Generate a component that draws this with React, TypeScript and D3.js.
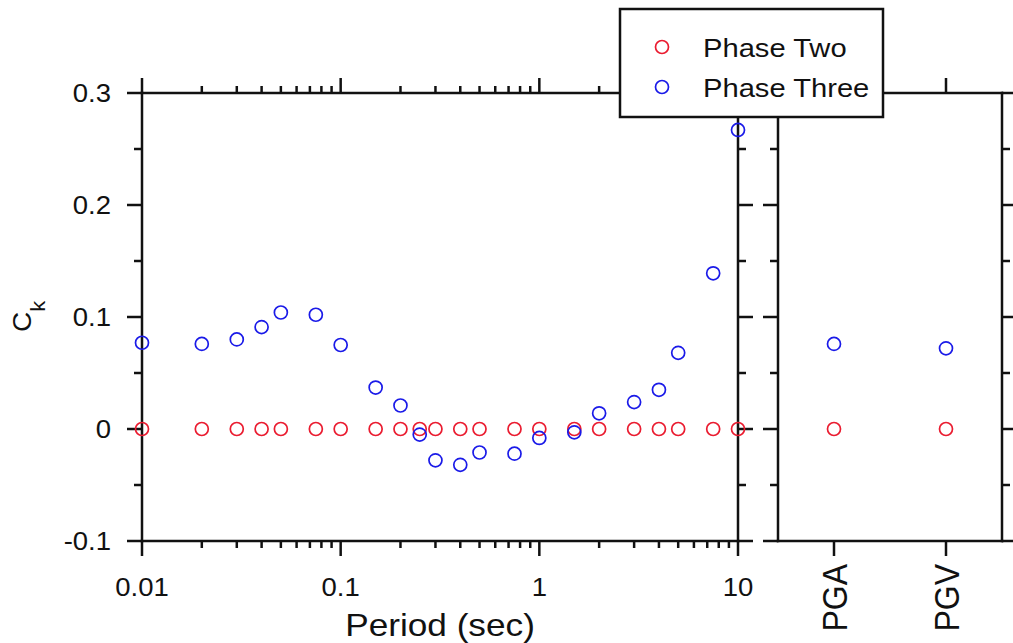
import React from "react";
import * as d3 from "d3";

const periods = [0.01, 0.02, 0.03, 0.04, 0.05, 0.075, 0.1, 0.15, 0.2, 0.25, 0.3, 0.4, 0.5, 0.75, 1, 1.5, 2, 3, 4, 5, 7.5, 10];
const phaseTwo = [0, 0, 0, 0, 0, 0, 0, 0, 0, 0, 0, 0, 0, 0, 0, 0, 0, 0, 0, 0, 0, 0];
const phaseThree = [0.077, 0.076, 0.080, 0.091, 0.104, 0.102, 0.075, 0.037, 0.021, -0.005, -0.028, -0.032, -0.021, -0.022, -0.008, -0.003, 0.014, 0.024, 0.035, 0.068, 0.139, 0.267];

const categories = ["PGA", "PGV"];
const phaseTwoCat = [0, 0];
const phaseThreeCat = [0.076, 0.072];

const yTicks = [-0.1, 0, 0.1, 0.2, 0.3];
const yTickLabels = ["-0.1", "0", "0.1", "0.2", "0.3"];
const yMinorTicks = [-0.05, 0.05, 0.15, 0.25];
const xTicks = [0.01, 0.1, 1, 10];
const xTickLabels = ["0.01", "0.1", "1", "10"];
const decades = [0.01, 0.1, 1];
const minorMult = [2, 3, 4, 5, 6, 7, 8, 9];

const seriesNames = ["Phase Two", "Phase Three"];
const RED = "#ea1c30";
const BLUE = "#1a1ae8";
const INK = "#111";
const FONT = "'Liberation Sans', Arial, sans-serif";

export default function App() {
  const x = d3.scaleLog().domain([0.01, 10]).range([142, 738]);
  const y = d3.scaleLinear().domain([-0.1, 0.3]).range([541, 93]);
  const xc = d3.scalePoint<string>().domain(categories).range([778, 1002]).padding(0.5);

  const top = y(0.3);
  const bottom = y(-0.1);
  const L0 = x(0.01);
  const L1 = x(10);
  const R0 = 778;
  const R1 = 1002;
  const MAJ = 15;
  const MIN = 8;
  const XMIN = 7;
  const sw = 2.5;

  const minorX: number[] = [];
  decades.forEach((d) => minorMult.forEach((m) => minorX.push(d * m)));

  const yTickLines = (ax: number, dir: number) => (
    <g>
      {yTicks.map((t, i) => (
        <line key={"M" + i} x1={ax} x2={ax + dir * MAJ} y1={y(t)} y2={y(t)} stroke={INK} strokeWidth={sw} />
      ))}
      {yMinorTicks.map((t, i) => (
        <line key={"m" + i} x1={ax} x2={ax + dir * MIN} y1={y(t)} y2={y(t)} stroke={INK} strokeWidth={sw} />
      ))}
    </g>
  );

  const r = 6.5;
  const txt = (tx: number, ty: number, extra = "", sx = 1.1) => `translate(${tx},${ty}) scale(${sx},1)${extra}`;

  return (
    <svg width={1013} height={643} style={{ position: "absolute", left: 0, top: 0, background: "#fff" }} fontFamily={FONT}>
      <rect x={0} y={0} width={1013} height={643} fill="#fff" />

      {/* Left panel frame */}
      <g strokeLinecap="square">
        <line x1={L0} x2={L1} y1={top} y2={top} stroke={INK} strokeWidth={sw} />
        <line x1={L0} x2={L1} y1={bottom} y2={bottom} stroke={INK} strokeWidth={sw} />
        <line x1={L0} x2={L0} y1={top} y2={bottom} stroke={INK} strokeWidth={sw} />
        <line x1={L1} x2={L1} y1={top} y2={bottom} stroke={INK} strokeWidth={sw} />
      </g>
      <g>
        {yTickLines(L0, -1)}
        {yTickLines(L1, 1)}
        {xTicks.map((t, i) => (
          <g key={"xt" + i}>
            <line x1={x(t)} x2={x(t)} y1={bottom} y2={bottom + MAJ} stroke={INK} strokeWidth={sw} />
            <line x1={x(t)} x2={x(t)} y1={top} y2={top - MAJ} stroke={INK} strokeWidth={sw} />
          </g>
        ))}
        {minorX.map((t, i) => (
          <g key={"xm" + i}>
            <line x1={x(t)} x2={x(t)} y1={bottom} y2={bottom + XMIN} stroke={INK} strokeWidth={sw} />
            <line x1={x(t)} x2={x(t)} y1={top} y2={top - XMIN} stroke={INK} strokeWidth={sw} />
          </g>
        ))}
      </g>

      {/* Right panel frame */}
      <g strokeLinecap="square">
        <line x1={R0} x2={R1} y1={top} y2={top} stroke={INK} strokeWidth={sw} />
        <line x1={R0} x2={R1} y1={bottom} y2={bottom} stroke={INK} strokeWidth={sw} />
        <line x1={R0} x2={R0} y1={top} y2={bottom} stroke={INK} strokeWidth={sw} />
        <line x1={R1} x2={R1} y1={top} y2={bottom} stroke={INK} strokeWidth={sw} />
      </g>
      <g>
        {yTickLines(R0, -1)}
        {yTickLines(R1, 1)}
        {categories.map((c, i) => (
          <g key={"ct" + i}>
            <line x1={xc(c)!} x2={xc(c)!} y1={bottom} y2={bottom + MAJ} stroke={INK} strokeWidth={sw} />
            <line x1={xc(c)!} x2={xc(c)!} y1={top} y2={top - MAJ} stroke={INK} strokeWidth={sw} />
          </g>
        ))}
      </g>

      {/* Y tick labels */}
      {yTicks.map((t, i) => (
        <text key={"yl" + i} transform={txt(111, y(t) + 9)} textAnchor="end" fontSize={25} fill={INK}>
          {yTickLabels[i]}
        </text>
      ))}

      {/* X tick labels */}
      {xTicks.map((t, i) => (
        <text key={"xl" + i} transform={txt(x(t), 596)} textAnchor="middle" fontSize={25} fill={INK}>
          {xTickLabels[i]}
        </text>
      ))}

      {/* Category labels */}
      {categories.map((c, i) => (
        <text key={"cl" + i} transform={txt(xc(c)! + 12.5, 564, " rotate(-90)")} textAnchor="end" fontSize={32} fill={INK}>
          {c}
        </text>
      ))}

      {/* Axis titles */}
      <text transform={txt((L0 + L1) / 2, 636)} textAnchor="middle" fontSize={32} fill={INK}>
        Period (sec)
      </text>
      <text transform={txt(31, 332, " rotate(-90)", 0.92)} textAnchor="start" fontSize={28} fill={INK}>
        C
        <tspan fontSize={22} dy={15}>k</tspan>
      </text>

      {/* Data points */}
      <g fill="none" strokeWidth={1.7}>
        {periods.map((p, i) => (
          <circle key={"r" + i} cx={x(p)} cy={y(phaseTwo[i])} r={r} stroke={RED} />
        ))}
        {categories.map((c, i) => (
          <circle key={"rc" + i} cx={xc(c)!} cy={y(phaseTwoCat[i])} r={r} stroke={RED} />
        ))}
        {periods.map((p, i) => (
          <circle key={"b" + i} cx={x(p)} cy={y(phaseThree[i])} r={r} stroke={BLUE} />
        ))}
        {categories.map((c, i) => (
          <circle key={"bc" + i} cx={xc(c)!} cy={y(phaseThreeCat[i])} r={r} stroke={BLUE} />
        ))}
      </g>

      {/* Legend */}
      <g>
        <rect x={620} y={9} width={263} height={108} fill="#fff" stroke={INK} strokeWidth={2.5} />
        {seriesNames.map((s, i) => (
          <g key={"lg" + i}>
            <circle cx={662} cy={47 + i * 40} r={r} fill="none" stroke={i === 0 ? RED : BLUE} strokeWidth={1.7} />
            <text transform={txt(703, 57 + i * 40)} fontSize={26.5} fill={INK}>
              {s}
            </text>
          </g>
        ))}
      </g>
    </svg>
  );
}
